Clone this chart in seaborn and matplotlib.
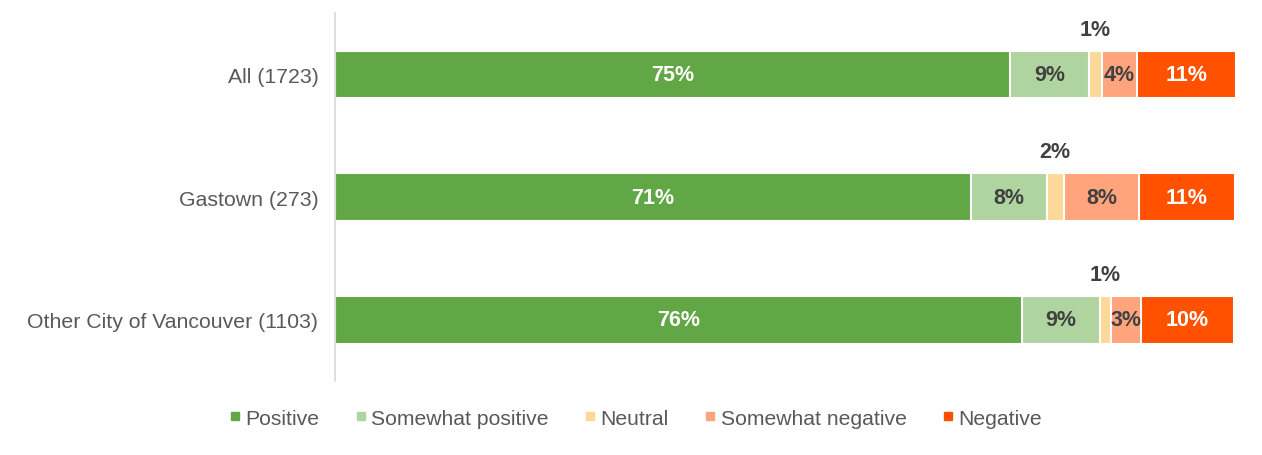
import numpy as np
import pandas as pd
import matplotlib
matplotlib.use('Agg')
import matplotlib.pyplot as plt
from matplotlib.lines import Line2D
import seaborn as sns

# Data (percent of respondents)
groups = ['All (1723)', 'Gastown (273)', 'Other City of Vancouver (1103)']
responses = ['Positive', 'Somewhat positive', 'Neutral', 'Somewhat negative', 'Negative']
positive = [75.0, 70.7, 76.4]
somewhat_positive = [8.8, 8.4, 8.6]
neutral = [1.4, 1.9, 1.2]
somewhat_negative = [3.9, 8.4, 3.4]
negative = [11.1, 10.6, 10.3]

colors = ['#62a745', '#afd4a0', '#fcd998', '#ffa47d', '#ff5100']
label_colors = ['white', '#404040', '#404040', '#404040', 'white']

sns.set_theme(style='white')
plt.rcParams['font.family'] = ['Liberation Sans', 'DejaVu Sans']

df = pd.DataFrame({'group': groups, 'Positive': positive,
                   'Somewhat positive': somewhat_positive, 'Neutral': neutral,
                   'Somewhat negative': somewhat_negative, 'Negative': negative})
cum = df[responses].cumsum(axis=1)

fig = plt.figure(figsize=(12.62, 4.56), dpi=100)
ax = fig.add_axes([0.2655, 0.162, 0.715, 0.807])

# stacked bars: draw cumulative totals from the largest down
for i in range(len(responses) - 1, -1, -1):
    sns.barplot(x=cum[responses[i]], y=df['group'], orient='h', color=colors[i],
                width=0.39, edgecolor='white', linewidth=1.5, saturation=1, ax=ax)

# value labels
for r in range(len(groups)):
    for i, resp in enumerate(responses):
        val = df.loc[r, resp]
        xc = cum.loc[r, resp] - val / 2
        txt = f'{val:.0f}%'
        if resp == 'Neutral':
            ax.text(xc, r - 0.37, txt, ha='center', va='center', fontsize=15.5,
                    fontweight='bold', color='#404040')
        else:
            ax.text(xc, r, txt, ha='center', va='center', fontsize=15.5,
                    fontweight='bold', color=label_colors[i])

ax.set_xlim(0, 100.3)
ax.set_ylim(2.5, -0.5)
ax.set_xlabel('')
ax.set_ylabel('')
ax.set_xticks([])
ax.tick_params(axis='y', length=0, pad=12, labelsize=15.3, labelcolor='#595959')
for s in ['top', 'right', 'bottom']:
    ax.spines[s].set_visible(False)
ax.spines['left'].set_color('#d9d9d9')
ax.spines['left'].set_linewidth(1.2)
ax.spines['left'].set_bounds(2.5, -0.5)

handles = [Line2D([], [], marker='s', linestyle='none', markersize=6,
                  markerfacecolor=c, markeredgecolor=c) for c in colors]
fig.legend(handles, responses, loc='center', bbox_to_anchor=(0.503, 0.081),
           ncol=5, frameon=False, fontsize=15.2, handletextpad=0.15,
           columnspacing=1.6, labelcolor='#595959', handlelength=0.7)

fig.savefig('out.png', dpi=100)
